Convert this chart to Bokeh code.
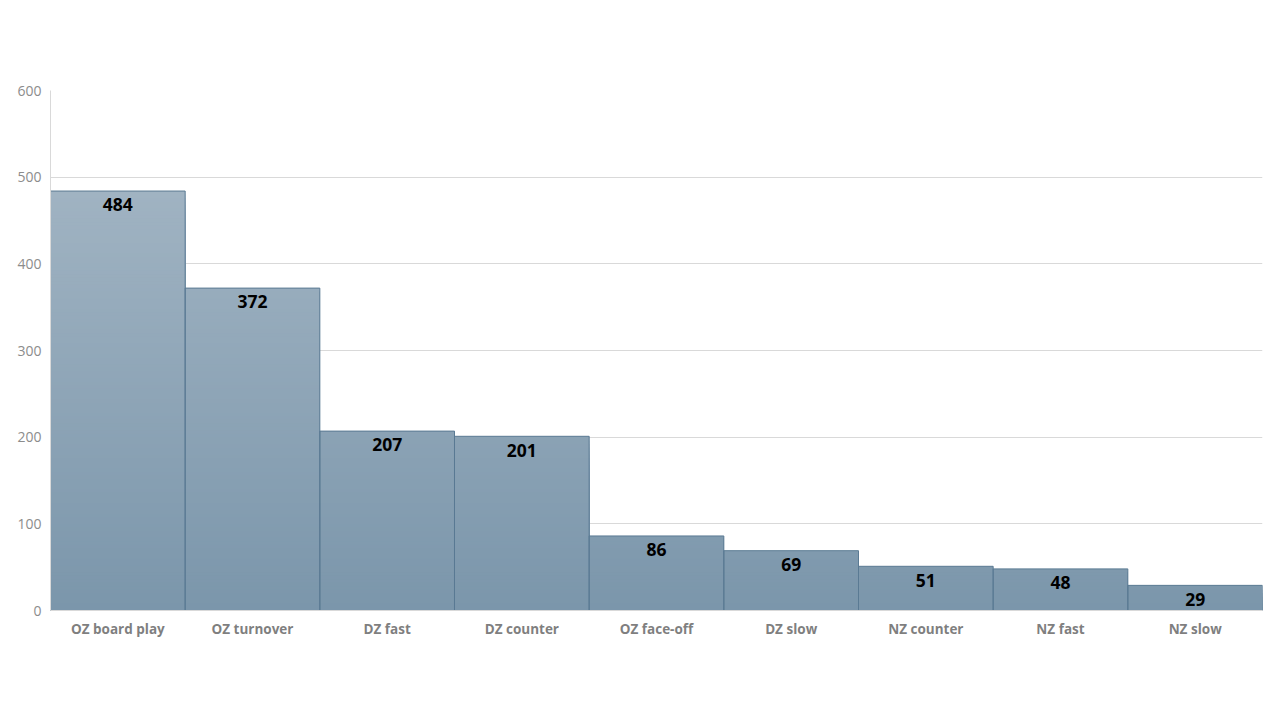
from bokeh.plotting import figure
from bokeh.models import FactorRange, Range1d, ColumnDataSource, SingleIntervalTicker
from bokeh.core.properties import value
from bokeh.embed import file_html
from bokeh.resources import INLINE

categories = ["OZ board play", "OZ turnover", "DZ fast", "DZ counter", "OZ face-off",
              "DZ slow", "NZ counter", "NZ fast", "NZ slow"]
counts = [484, 372, 207, 201, 86, 69, 51, 48, 29]

p = figure(x_range=FactorRange(*categories, range_padding=0), y_range=Range1d(0, 600),
           width=1264, height=704, output_backend="svg", toolbar_location=None,
           min_border_left=50, min_border_right=2, min_border_top=90, min_border_bottom=94)

# gradient approximation: overlapping bars from 0 up to each level, tallest drawn first
c_bot = (0x7B, 0x96, 0xAB)
c_top = (0xA0, 0xB3, 0xC2)
ymax = max(counts)
step = 4
items = []
for cat, v in zip(categories, counts):
    y = 0
    while y < v:
        top = min(y + step, v)
        f = ((y + top) / 2) / ymax
        col = tuple(int(round(a + (b - a) * f)) for a, b in zip(c_bot, c_top))
        items.append((top, cat, "#%02x%02x%02x" % col))
        y = top
items.sort(key=lambda t: -t[0])
p.vbar(x=[i[1] for i in items], bottom=0, top=[i[0] for i in items], width=1.0,
       fill_color=[i[2] for i in items], line_color=None)

# outlines
src = ColumnDataSource(dict(x=categories, top=counts))
p.vbar(x="x", top="top", bottom=0, width=1.0, source=src, fill_alpha=0,
       line_color="#5A7A93", line_width=1)

# value labels
lab = ColumnDataSource(dict(x=categories, y=[c - 16 for c in counts], t=[str(c) for c in counts]))
p.text(x="x", y="y", text="t", source=lab, text_align="center", text_baseline="middle",
       text_font=value("Open Sans"), text_font_style="bold", text_font_size="17.5px",
       text_color="#000000")

p.outline_line_color = None
p.xgrid.grid_line_color = None
p.ygrid.grid_line_color = "#D9D9D9"
p.ygrid.grid_line_width = 1
p.yaxis.ticker = SingleIntervalTicker(interval=100)
for ax in (p.xaxis, p.yaxis):
    ax.major_tick_line_color = None
    ax.minor_tick_line_color = None
    ax.axis_line_color = "#D9D9D9"
    ax.major_label_text_color = "#8C8C8C"
    ax.major_label_text_font = "Open Sans"
p.yaxis.major_label_text_font_size = "14px"
p.yaxis.major_label_standoff = 3
p.xaxis.major_label_text_font_size = "13.5px"
p.xaxis.major_label_text_font_style = "bold"
p.xaxis.major_label_text_color = "#7F7F7F"
p.xaxis.major_label_standoff = 3

open("out.html", "w").write(file_html(p, INLINE))
